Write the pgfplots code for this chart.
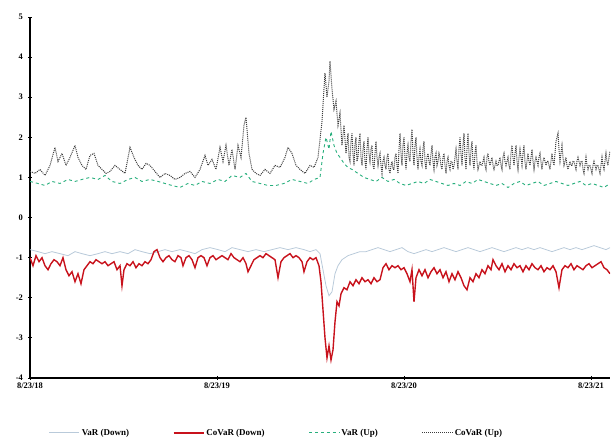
\documentclass[border=0pt]{standalone}
\usepackage{fontspec}
\setmainfont{Liberation Serif}
\usepackage{pgfplots}
\pgfplotsset{compat=1.18}
\definecolor{vardown}{RGB}{185,202,218}
\definecolor{covardown}{RGB}{200,18,28}
\definecolor{varup}{RGB}{40,175,125}
\definecolor{covarup}{RGB}{60,60,60}
\begin{document}
\begin{tikzpicture}
\path[use as bounding box] (-30bp,-70bp) rectangle (584bp,378bp);
\begin{axis}[
  at={(0,0)}, anchor=south west,
  scale only axis, width=580bp, height=361bp,
  xmin=0, xmax=580, ymin=-4, ymax=5,
  axis lines*=left,
  axis line style={black, line width=1.5pt},
  xtick={0,187,374,561},
  xticklabels={8/23/18,8/23/19,8/23/20,8/23/21},
  ytick={-4,-3,-2,-1,0,1,2,3,4,5},
  yticklabels={-4,-3,-2,-1,0,1,2,3,4,5},
  tick style={black, line width=0.8pt},
  major tick length=3bp,
  tick align=center,
  tick label style={font=\bfseries\fontsize{8.5}{10}\selectfont},
  xticklabel style={yshift=0bp},
  yticklabel style={xshift=-2bp},
  legend columns=4,
  legend style={draw=none, at={(0.425,-0.152)}, anchor=center,
    font=\bfseries\fontsize{9}{11}\selectfont,
    /tikz/every even column/.append style={column sep=42bp}},
  legend image code/.code={\draw[#1] (0bp,0bp) -- (30bp,0bp);},
]
\addplot[vardown, line width=0.8pt] coordinates {
(0,-0.8)(8,-0.85)(15,-0.9)(22,-0.85)(30,-0.9)(38,-0.95)(45,-0.85)(52,-0.9)(60,-0.95)(68,-0.9)(75,-0.85)(82,-0.9)(90,-0.85)(98,-0.9)(105,-0.8)(112,-0.85)(120,-0.9)(128,-0.85)(135,-0.8)(142,-0.85)(150,-0.8)(158,-0.85)(165,-0.9)(172,-0.8)(180,-0.75)(188,-0.8)(195,-0.85)(202,-0.75)(210,-0.8)(218,-0.85)(226,-0.8)(234,-0.85)(242,-0.8)(250,-0.75)(258,-0.8)(266,-0.75)(274,-0.8)(280,-0.85)(286,-0.8)(290,-0.9)(293,-1.3)(296,-1.7)(299,-1.95)(302,-1.85)(305,-1.4)(308,-1.2)(312,-1.05)(318,-0.95)(324,-0.9)(330,-0.85)(336,-0.85)(342,-0.8)(348,-0.75)(354,-0.8)(360,-0.85)(366,-0.8)(372,-0.75)(378,-0.85)(384,-0.9)(390,-0.85)(396,-0.8)(402,-0.85)(408,-0.8)(414,-0.75)(420,-0.8)(426,-0.85)(432,-0.8)(438,-0.75)(444,-0.8)(450,-0.85)(456,-0.8)(462,-0.75)(468,-0.8)(474,-0.85)(480,-0.8)(486,-0.75)(492,-0.8)(498,-0.75)(504,-0.8)(510,-0.75)(516,-0.8)(522,-0.85)(528,-0.8)(534,-0.75)(540,-0.8)(546,-0.75)(552,-0.8)(558,-0.75)(564,-0.7)(570,-0.75)(576,-0.8)(580,-0.75)
};
\addlegendentry{VaR (Down)}
\addplot[covardown, line width=1.4pt] coordinates {
(0,-1.0)(3,-1.2)(6,-0.95)(9,-1.1)(12,-1.0)(15,-1.2)(18,-1.3)(21,-1.15)(24,-1.05)(27,-1.1)(30,-1.2)(33,-1.0)(36,-1.3)(39,-1.45)(42,-1.35)(45,-1.6)(48,-1.4)(51,-1.65)(54,-1.3)(57,-1.2)(60,-1.1)(63,-1.15)(66,-1.05)(69,-1.1)(72,-1.15)(75,-1.1)(78,-1.2)(81,-1.15)(84,-1.1)(87,-1.3)(90,-1.2)(92,-1.7)(94,-1.3)(97,-1.15)(100,-1.2)(103,-1.1)(106,-1.25)(109,-1.15)(112,-1.2)(115,-1.1)(118,-1.15)(121,-1.05)(124,-0.85)(127,-0.8)(130,-1.0)(133,-1.1)(136,-1.0)(139,-0.95)(142,-1.05)(145,-1.1)(148,-0.95)(151,-1.0)(153,-1.2)(156,-1.0)(159,-0.95)(162,-1.05)(165,-1.25)(168,-1.0)(171,-0.95)(174,-1.0)(177,-1.2)(180,-1.0)(183,-0.95)(186,-1.05)(189,-1.0)(192,-0.95)(195,-1.0)(198,-1.05)(201,-0.9)(204,-1.0)(207,-1.05)(210,-1.1)(213,-1.0)(216,-1.15)(218,-1.35)(221,-1.2)(224,-1.05)(227,-1.0)(230,-0.95)(233,-1.0)(236,-0.9)(239,-0.95)(242,-1.0)(245,-1.05)(248,-1.5)(251,-1.1)(254,-1.0)(257,-0.95)(260,-0.9)(263,-1.0)(266,-0.95)(269,-1.0)(272,-1.1)(274,-1.35)(277,-1.1)(280,-1.0)(283,-1.05)(286,-1.0)(289,-1.2)(291,-1.6)(293,-2.3)(295,-3.0)(297,-3.5)(299,-3.2)(301,-3.55)(303,-3.3)(305,-2.6)(307,-2.1)(309,-2.2)(311,-1.9)(314,-1.75)(317,-1.8)(320,-1.6)(323,-1.7)(326,-1.55)(329,-1.65)(332,-1.5)(335,-1.6)(338,-1.55)(341,-1.65)(344,-1.5)(347,-1.6)(350,-1.55)(353,-1.25)(356,-1.15)(359,-1.3)(362,-1.2)(365,-1.25)(368,-1.2)(371,-1.3)(374,-1.25)(377,-1.4)(380,-1.6)(382,-1.3)(384,-2.1)(386,-1.5)(389,-1.3)(392,-1.45)(395,-1.3)(398,-1.5)(401,-1.35)(404,-1.25)(407,-1.4)(410,-1.3)(413,-1.5)(416,-1.35)(419,-1.6)(422,-1.4)(425,-1.55)(428,-1.35)(431,-1.5)(434,-1.7)(437,-1.8)(440,-1.5)(443,-1.6)(446,-1.4)(449,-1.5)(452,-1.3)(455,-1.4)(458,-1.2)(461,-1.3)(463,-1.05)(466,-1.2)(469,-1.3)(472,-1.15)(475,-1.35)(478,-1.2)(481,-1.3)(484,-1.15)(487,-1.25)(490,-1.2)(493,-1.35)(496,-1.2)(499,-1.3)(502,-1.15)(505,-1.25)(508,-1.3)(511,-1.2)(514,-1.35)(517,-1.25)(520,-1.3)(523,-1.2)(526,-1.35)(529,-1.75)(532,-1.3)(535,-1.2)(538,-1.25)(541,-1.15)(544,-1.3)(547,-1.2)(550,-1.25)(553,-1.3)(556,-1.2)(559,-1.15)(562,-1.25)(565,-1.2)(568,-1.15)(571,-1.1)(574,-1.25)(577,-1.3)(580,-1.4)
};
\addlegendentry{CoVaR (Down)}
\addplot[varup, line width=0.9pt, dashed] coordinates {
(0,0.9)(8,0.85)(15,0.8)(22,0.9)(30,0.85)(38,0.95)(45,0.9)(52,0.95)(60,1.0)(68,0.95)(75,1.05)(82,0.9)(90,0.85)(98,0.95)(105,1.0)(112,0.9)(120,0.95)(128,0.9)(135,0.85)(142,0.8)(150,0.75)(158,0.85)(165,0.8)(172,0.9)(180,0.85)(188,0.95)(195,0.9)(202,1.05)(210,1.0)(216,1.1)(222,0.9)(230,0.85)(238,0.8)(246,0.8)(254,0.85)(262,0.95)(270,0.9)(278,0.85)(284,0.95)(290,1.0)(293,1.6)(296,2.0)(299,1.7)(301,2.15)(304,1.8)(307,1.6)(310,1.5)(314,1.35)(318,1.25)(322,1.2)(328,1.1)(334,1.0)(340,0.95)(346,0.9)(352,1.0)(358,0.9)(364,0.95)(370,0.85)(376,0.8)(382,0.85)(388,0.9)(394,0.85)(400,0.95)(406,0.9)(412,0.85)(418,0.8)(424,0.85)(430,0.8)(436,0.9)(442,0.85)(448,0.95)(454,0.9)(460,0.85)(466,0.8)(472,0.85)(478,0.75)(484,0.85)(490,0.9)(496,0.8)(502,0.85)(508,0.9)(514,0.8)(520,0.85)(526,0.9)(532,0.85)(538,0.8)(544,0.85)(550,0.9)(556,0.8)(562,0.85)(568,0.8)(574,0.75)(580,0.85)
};
\addlegendentry{VaR (Up)}
\addplot[covarup, line width=1pt, densely dotted] coordinates {
(0,1.15)(5,1.1)(10,1.2)(15,1.05)(20,1.3)(25,1.75)(28,1.4)(32,1.6)(36,1.3)(40,1.5)(45,1.8)(48,1.5)(52,1.3)(56,1.2)(60,1.55)(64,1.6)(68,1.3)(72,1.2)(76,1.1)(80,1.15)(85,1.3)(90,1.2)(95,1.1)(100,1.75)(104,1.5)(108,1.3)(112,1.2)(116,1.35)(120,1.3)(125,1.15)(130,1.0)(135,1.1)(140,1.05)(145,0.95)(150,1.0)(155,1.1)(160,1.15)(165,1.0)(170,1.2)(175,1.55)(178,1.3)(182,1.45)(186,1.2)(190,1.75)(193,1.4)(196,1.8)(199,1.3)(202,1.7)(205,1.2)(208,1.8)(211,1.5)(214,2.3)(216,2.5)(219,1.6)(222,1.2)(226,1.1)(230,1.05)(235,1.2)(240,1.1)(245,1.3)(250,1.25)(255,1.5)(258,1.75)(262,1.6)(266,1.3)(270,1.2)(275,1.1)(280,1.3)(284,1.25)(288,1.5)(292,2.4)(295,3.6)(297,3.0)(299,3.4)(300,3.9)(302,3.2)(304,2.7)(306,2.9)(308,2.3)(310,2.6)(312,1.8)(314,2.3)(316,1.6)(318,2.1)(319,1.5)(320,1.4)(321,1.9)(322,2.1)(323,1.6)(324,1.3)(325,1.8)(326,2.0)(327,1.4)(328,1.5)(329,1.9)(330,2.1)(331,1.5)(332,1.3)(333,1.7)(334,1.9)(335,1.4)(336,1.2)(337,1.7)(338,2.0)(339,1.6)(340,1.4)(341,1.7)(342,1.8)(343,1.3)(344,1.2)(345,1.6)(346,1.9)(347,1.5)(348,1.3)(349,1.5)(350,1.6)(351,1.3)(352,1.1)(353,1.4)(354,1.5)(355,1.3)(356,1.2)(357,1.5)(358,1.6)(359,1.2)(360,1.1)(361,1.3)(362,1.4)(363,1.2)(364,1.2)(365,1.5)(366,1.6)(367,1.3)(368,1.1)(369,1.7)(370,2.1)(371,1.6)(372,1.3)(373,1.8)(374,2.0)(375,1.5)(376,1.2)(377,1.6)(378,1.8)(379,1.5)(380,1.4)(381,1.9)(382,2.2)(383,1.6)(384,1.3)(385,1.8)(386,2.0)(387,1.5)(388,1.2)(389,1.5)(390,1.7)(391,1.4)(392,1.3)(393,1.7)(394,1.9)(395,1.4)(396,1.2)(397,1.5)(398,1.6)(399,1.4)(400,1.3)(401,1.6)(402,1.8)(403,1.4)(404,1.2)(405,1.5)(406,1.6)(407,1.3)(408,1.4)(409,1.6)(410,1.5)(411,1.3)(412,1.2)(413,1.5)(414,1.6)(415,1.3)(416,1.1)(417,1.4)(418,1.5)(419,1.3)(420,1.2)(421,1.4)(422,1.4)(423,1.2)(424,1.3)(425,1.5)(426,1.7)(427,1.4)(428,1.2)(429,1.7)(430,2.0)(431,1.6)(432,1.3)(433,1.8)(434,2.1)(435,1.5)(436,1.2)(437,1.7)(438,2.1)(439,1.6)(440,1.3)(441,1.7)(442,1.9)(443,1.4)(444,1.2)(445,1.6)(446,1.8)(447,1.4)(448,1.2)(449,1.3)(450,1.4)(451,1.3)(452,1.3)(453,1.4)(454,1.5)(455,1.3)(456,1.2)(457,1.5)(458,1.6)(459,1.4)(460,1.3)(461,1.4)(462,1.5)(463,1.3)(464,1.2)(465,1.3)(466,1.4)(467,1.3)(468,1.3)(469,1.4)(470,1.5)(471,1.3)(472,1.2)(473,1.5)(474,1.6)(475,1.4)(476,1.3)(477,1.4)(478,1.5)(479,1.3)(480,1.2)(481,1.6)(482,1.8)(483,1.5)(484,1.3)(485,1.6)(486,1.8)(487,1.4)(488,1.2)(489,1.5)(490,1.7)(491,1.5)(492,1.3)(493,1.6)(494,1.8)(495,1.4)(496,1.2)(497,1.4)(498,1.6)(499,1.4)(500,1.3)(501,1.5)(502,1.7)(503,1.4)(504,1.2)(505,1.4)(506,1.5)(507,1.4)(508,1.3)(509,1.5)(510,1.6)(511,1.4)(512,1.2)(513,1.4)(514,1.5)(515,1.4)(516,1.3)(517,1.4)(518,1.4)(519,1.3)(520,1.2)(521,1.4)(522,1.6)(523,1.4)(524,1.3)(525,1.6)(526,1.9)(527,2.0)(528,2.1)(529,1.7)(530,1.4)(531,1.6)(532,1.8)(533,1.5)(534,1.3)(535,1.4)(536,1.5)(537,1.3)(538,1.2)(539,1.3)(540,1.4)(541,1.3)(542,1.3)(543,1.4)(544,1.4)(545,1.3)(546,1.2)(547,1.4)(548,1.5)(549,1.4)(550,1.3)(551,1.4)(552,1.4)(553,1.2)(554,1.1)(555,1.3)(556,1.5)(557,1.3)(558,1.2)(559,1.3)(560,1.3)(561,1.2)(562,1.1)(563,1.3)(564,1.4)(565,1.3)(566,1.2)(567,1.3)(568,1.3)(569,1.2)(570,1.1)(571,1.3)(572,1.5)(573,1.3)(574,1.2)(575,1.4)(576,1.6)(577,1.4)(578,1.3)(579,1.5)(580,1.65)
};
\addlegendentry{CoVaR (Up)}
\end{axis}
\end{tikzpicture}
\end{document}
